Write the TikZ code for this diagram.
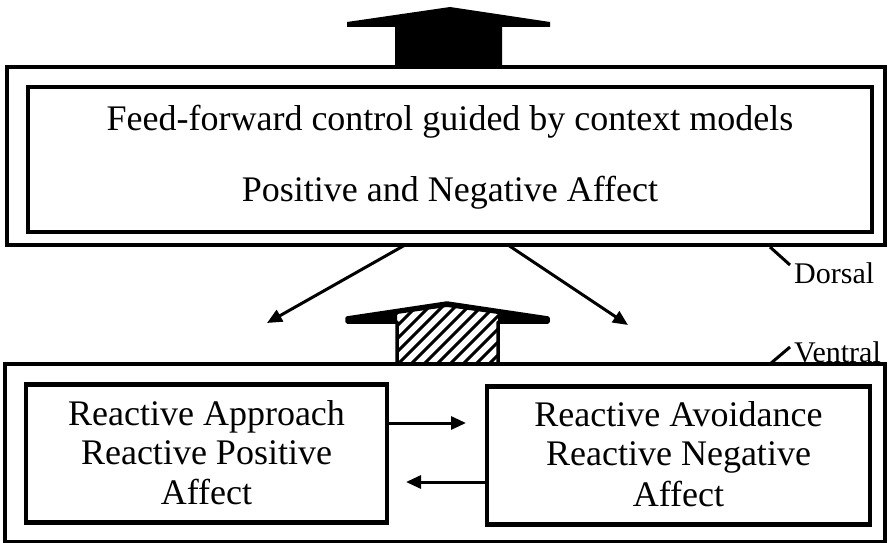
\documentclass[tikz,border=0pt]{standalone}
\usepackage{fontspec}
\setmainfont{Liberation Serif}
\usetikzlibrary{arrows.meta}
\begin{document}
\begin{tikzpicture}[x=1pt,y=-1pt,
  box/.style={draw, line width=4.5pt, rectangle, inner sep=0pt},
  lbl/.style={font=\fontsize{36}{40}\selectfont, inner sep=0pt, anchor=base},
  side/.style={font=\fontsize{30}{34}\selectfont, inner sep=0pt, anchor=base west},
  conn/.style={line width=3pt, -{Triangle[length=15pt,width=13pt]}},
  leader/.style={line width=3pt}]
\useasboundingbox (0,0) rectangle (891,543);

% top (dorsal) boxes
\node[box, minimum width=878pt, minimum height=178pt] (dout) at (446,156) {};
\node[box, minimum width=844pt, minimum height=145pt] (din) at (450,159.5) {};
\node[lbl] (t1) at (450,130) {Feed-forward control guided by context models};
\node[lbl] (t2) at (450,201) {Positive and Negative Affect};

% bottom (ventral) boxes
\node[box, minimum width=880pt, minimum height=178pt] (vout) at (445,453) {};
\node[box, minimum width=361pt, minimum height=138pt] (lbox) at (206.5,453.5) {};
\node[box, minimum width=383pt, minimum height=138pt] (rbox) at (678.5,455.5) {};

\node[lbl] (l1) at (206.5,425) {Reactive Approach};
\node[lbl] (l2) at (206.5,464) {Reactive Positive};
\node[lbl] (l3) at (206.5,504) {Affect};
\node[lbl] (r1) at (678.5,426) {Reactive Avoidance};
\node[lbl] (r2) at (678.5,465) {Reactive Negative};
\node[lbl] (r3) at (678.5,506) {Affect};

% black block arrow on top
\fill (395,67) -- (395,27) -- (347,27) -- (347,22) -- (450,7) -- (550,22)
      -- (550,27) -- (502,27) -- (502,67) -- cycle;

% hatched block arrow
\begin{scope}
  \clip (397,364) -- (397,322) -- (347,322) -- (347,318) -- (447,303)
        -- (548,318) -- (548,322) -- (498,322) -- (498,364) -- cycle;
  \foreach \i in {-4,...,14}
    \draw[line width=3pt] (340+\i*13,370) -- ++(80,-80);
\end{scope}
\fill (347,322) -- (347,318) -- (447,303) -- (548,318) -- (548,322) -- (498,322)
      -- (498,314) -- (447,307) -- (397,314) -- (397,322) -- cycle;
\draw[line width=3.5pt, line join=round] (397,364) -- (397,322) -- (347,322) -- (347,318) -- (447,303)
        -- (548,318) -- (548,322) -- (498,322) -- (498,364);

% diagonal arrows
\coordinate (ls) at (405,245);
\coordinate (le) at (267,323);
\coordinate (rs) at (508,245);
\coordinate (re) at (628,325);
\draw[conn] (ls) -- (le);
\draw[conn] (rs) -- (re);

% horizontal arrows between reactive boxes
\draw[conn] (lbox.east |- 0,423) -- (466,423);
\draw[conn] (rbox.west |- 0,482) -- (406,482);

% labels
\coordinate (d1) at (770,247);
\coordinate (d2) at (790,265);
\draw[leader] (d1) -- (d2);
\node[side] (dorsal) at (794,283) {Dorsal};
\coordinate (v1) at (770,364);
\coordinate (v2) at (790,347);
\draw[leader] (v1) -- (v2);
\node[side] (ventral) at (794,362) {Ventral};
\end{tikzpicture}
\end{document}
